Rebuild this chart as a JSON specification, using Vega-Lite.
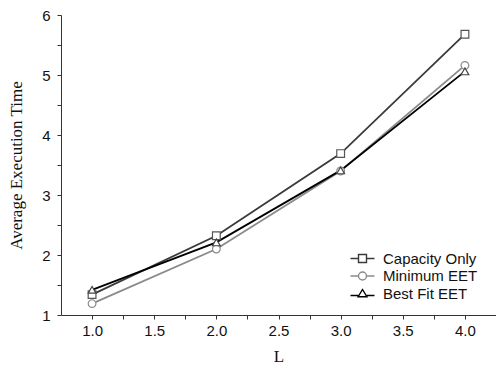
{
  "$schema": "https://vega.github.io/schema/vega-lite/v6.json",
  "width": 435,
  "height": 300,
  "autosize": "none",
  "padding": {"left": 61, "top": 15, "right": 0, "bottom": 53},
  "background": "white",
  "config": {"view": {"stroke": null}},
  "data": {"values": [
    {"L": 1.0, "series": "Capacity Only", "value": 1.34},
    {"L": 2.0, "series": "Capacity Only", "value": 2.32},
    {"L": 3.0, "series": "Capacity Only", "value": 3.69},
    {"L": 4.0, "series": "Capacity Only", "value": 5.68},
    {"L": 1.0, "series": "Minimum EET", "value": 1.19},
    {"L": 2.0, "series": "Minimum EET", "value": 2.1},
    {"L": 3.0, "series": "Minimum EET", "value": 3.4},
    {"L": 4.0, "series": "Minimum EET", "value": 5.16},
    {"L": 1.0, "series": "Best Fit EET", "value": 1.42},
    {"L": 2.0, "series": "Best Fit EET", "value": 2.21},
    {"L": 3.0, "series": "Best Fit EET", "value": 3.41},
    {"L": 4.0, "series": "Best Fit EET", "value": 5.06}
  ]},
  "encoding": {
    "x": {"field": "L", "type": "quantitative",
      "scale": {"domain": [0.75, 4.25], "nice": false, "zero": false},
      "axis": {"title": "L", "values": [1, 1.25, 1.5, 1.75, 2, 2.25, 2.5, 2.75, 3, 3.25, 3.5, 3.75, 4],
        "labelExpr": "datum.value % 0.5 == 0 ? format(datum.value, '.1f') : ''",
        "grid": false, "domainColor": "#333", "tickColor": "#333", "tickSize": 4,
        "labelFont": "Liberation Sans", "labelFontSize": 15, "labelColor": "#111", "labelPadding": 4,
        "titleFont": "Liberation Serif", "titleFontSize": 17, "titleFontWeight": "normal", "titleColor": "#111", "titlePadding": 10}},
    "y": {"field": "value", "type": "quantitative",
      "scale": {"domain": [1, 6], "nice": false, "zero": false},
      "axis": {"title": "Average Execution Time", "values": [1, 1.5, 2, 2.5, 3, 3.5, 4, 4.5, 5, 5.5, 6],
        "labelExpr": "datum.value % 1 == 0 ? format(datum.value, 'd') : ''",
        "grid": false, "domainColor": "#333", "tickColor": "#333", "tickSize": 4,
        "labelFont": "Liberation Sans", "labelFontSize": 15, "labelColor": "#111", "labelPadding": 7,
        "titleFont": "Liberation Serif", "titleFontSize": 17, "titleFontWeight": "normal", "titleColor": "#111", "titlePadding": 16}}
  },
  "layer": [
    {
      "mark": {"type": "line", "strokeWidth": 1.8},
      "encoding": {
        "color": {"field": "series", "type": "nominal",
          "scale": {"domain": ["Capacity Only", "Minimum EET", "Best Fit EET"], "range": ["#3a3a3a", "#8a8a8a", "#000000"]},
          "legend": null}
      }
    },
    {
      "mark": {"type": "point", "filled": false, "fill": "white", "fillOpacity": 1, "strokeWidth": 1.2, "size": 60, "opacity": 1},
      "encoding": {
        "shape": {"field": "series", "type": "nominal",
          "scale": {"domain": ["Capacity Only", "Minimum EET", "Best Fit EET"], "range": ["square", "circle", "triangle-up"]},
          "legend": null},
        "stroke": {"field": "series", "type": "nominal",
          "scale": {"domain": ["Capacity Only", "Minimum EET", "Best Fit EET"], "range": ["#555555", "#8a8a8a", "#444444"]},
          "legend": null}
      }
    },
    {
      "mark": {"type": "point", "filled": false, "opacity": 0, "size": 64},
      "encoding": {
        "shape": {"field": "series", "type": "nominal",
          "scale": {"domain": ["Capacity Only", "Minimum EET", "Best Fit EET"],
            "range": ["M-3,0H-1M1,0H3M-1,-1H1V1H-1Z", "M-3,0H-1M1,0H3M1,0A1,1,0,1,1,-1,0A1,1,0,1,1,1,0Z", "M-3,0.5H-1.1M1.1,0.5H3M0,-1L1.1,0.8H-1.1Z"]},
          "legend": {"title": null, "orient": "none", "legendX": 294, "legendY": 236,
            "labelFont": "Liberation Sans", "labelFontSize": 15, "labelColor": "#111", "labelOffset": 13,
            "symbolSize": 64, "symbolStrokeWidth": 1.4, "symbolFillColor": "white", "symbolOpacity": 1, "rowPadding": 1.5,
            "encode": {"symbols": {"update": {"opacity": {"value": 1}, "fill": {"value": "white"}}}}}},
        "stroke": {"field": "series", "type": "nominal",
          "scale": {"domain": ["Capacity Only", "Minimum EET", "Best Fit EET"], "range": ["#3a3a3a", "#8a8a8a", "#000000"]},
          "legend": null}
      }
    }
  ],
  "resolve": {"scale": {"shape": "independent", "stroke": "independent"}, "legend": {"shape": "independent"}}
}
